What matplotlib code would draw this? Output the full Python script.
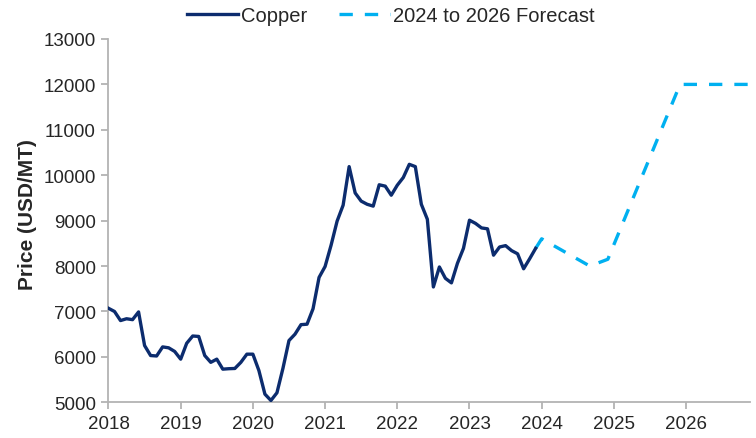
import matplotlib
matplotlib.use("Agg")
import matplotlib.pyplot as plt
import numpy as np

plt.rcParams["font.family"] = ["Liberation Sans", "DejaVu Sans"]

# monthly copper price, Jan 2018 - Dec 2023 (USD/MT)
copper_prices = [
    7070, 7000, 6800, 6840, 6820, 6990, 6250, 6030, 6020, 6220, 6200, 6120,  # 2018
    5950, 6300, 6460, 6450, 6030, 5880, 5950, 5730, 5740, 5745, 5880, 6060,  # 2019
    6060, 5700, 5180, 5040, 5210, 5750, 6360, 6500, 6710, 6720, 7060, 7750,  # 2020
    7990, 8460, 8990, 9340, 10190, 9610, 9430, 9360, 9320, 9790, 9760, 9560,  # 2021
    9780, 9950, 10240, 10190, 9360, 9030, 7540, 7980, 7730, 7630, 8060, 8390,  # 2022
    9010, 8940, 8840, 8820, 8240, 8420, 8450, 8340, 8270, 7940, 8160, 8390,  # 2023
]
start_year = 2018

# forecast path (month offsets from Jan 2018, price)
forecast_months = [71, 72, 80, 83, 95, 107]
forecast_prices = [8390, 8600, 8000, 8150, 12000, 12000]

year_ticks = list(range(2018, 2027))
y_ticks = list(range(5000, 13001, 1000))

navy = "#0c2c6e"
light_blue = "#00b0f0"
axis_grey = "#b3b3b3"
text_col = "#262626"

x_hist = start_year + np.arange(len(copper_prices)) / 12.0
x_fc = start_year + np.array(forecast_months) / 12.0

fig = plt.figure(figsize=(7.56, 4.39), dpi=100)
ax = fig.add_axes([0.1435, 0.0813, 0.8485, 0.8276])

ax.plot(x_fc, forecast_prices, color=light_blue, lw=2.4,
        dashes=(4.0, 3.6), dash_capstyle="butt",
        label="2024 to 2026 Forecast", zorder=2)
ax.plot(x_hist, copper_prices, color=navy, lw=2.4,
        solid_joinstyle="round", label="Copper", zorder=3)

ax.set_xlim(2018, 2026.885)
ax.set_ylim(5000, 13000)
ax.set_xticks(year_ticks)
ax.set_xticklabels([str(y) for y in year_ticks])
ax.set_yticks(y_ticks)

for side in ["top", "right"]:
    ax.spines[side].set_visible(False)
for side in ["left", "bottom"]:
    ax.spines[side].set_color(axis_grey)
    ax.spines[side].set_linewidth(1.3)

ax.tick_params(axis="both", colors=axis_grey, labelcolor=text_col,
               labelsize=13.5, length=5, width=1.3, direction="out")
ax.tick_params(axis="x", pad=4)
ax.tick_params(axis="y", pad=4)

ax.set_ylabel("Price (USD/MT)", fontsize=15, fontweight="bold", color=text_col)
ax.yaxis.set_label_coords(-0.112, 0.52)

h, l = ax.get_legend_handles_labels()
fig.legend(h[::-1], l[::-1], loc="center", bbox_to_anchor=(0.517, 0.962),
           ncol=2, frameon=False, fontsize=14.5, handlelength=2.5,
           handletextpad=0.15, columnspacing=1.6, labelcolor=text_col)

fig.savefig("out.png", dpi=100)
